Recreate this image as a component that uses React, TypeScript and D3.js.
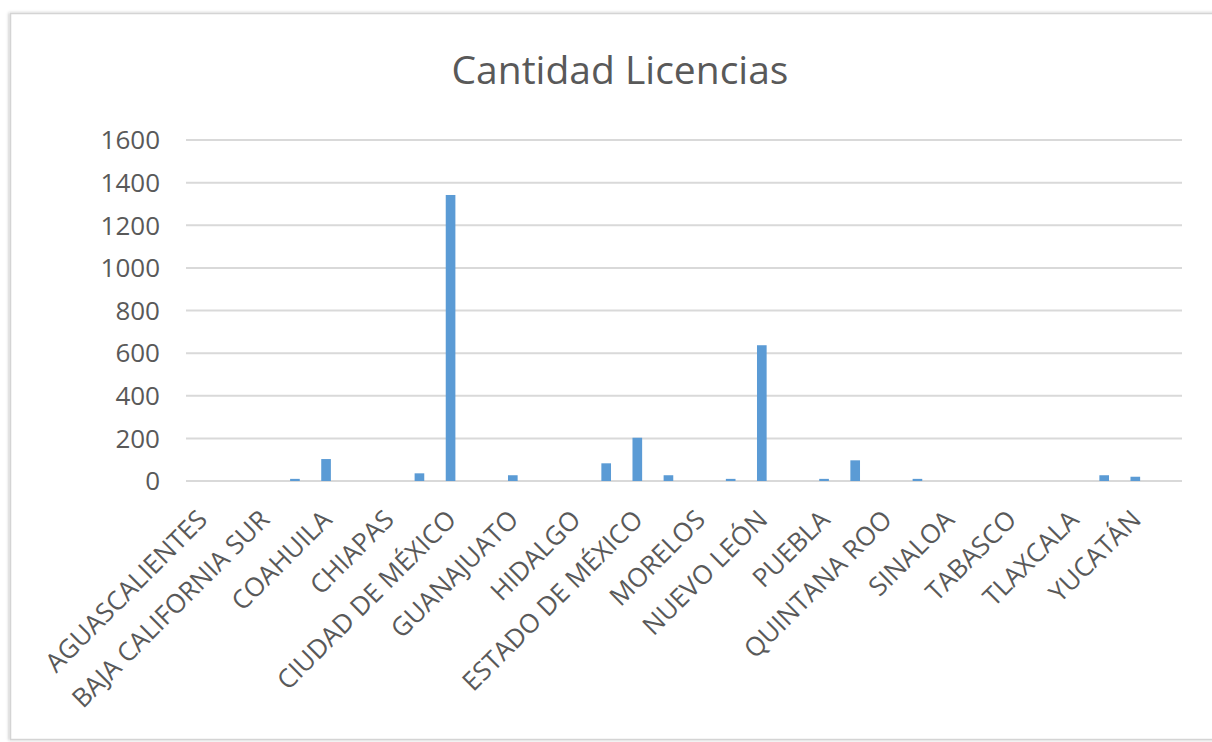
import React from 'react';
import * as d3 from 'd3';

// estados en orden INEGI; solo se rotulan los de índice par (como en Excel)
const estados = [
  'AGUASCALIENTES', 'BAJA CALIFORNIA', 'BAJA CALIFORNIA SUR', 'CAMPECHE',
  'COAHUILA', 'COLIMA', 'CHIAPAS', 'CHIHUAHUA',
  'CIUDAD DE MÉXICO', 'DURANGO', 'GUANAJUATO', 'GUERRERO',
  'HIDALGO', 'JALISCO', 'ESTADO DE MÉXICO', 'MICHOACÁN',
  'MORELOS', 'NAYARIT', 'NUEVO LEÓN', 'OAXACA',
  'PUEBLA', 'QUERÉTARO', 'QUINTANA ROO', 'SAN LUIS POTOSÍ',
  'SINALOA', 'SONORA', 'TABASCO', 'TAMAULIPAS',
  'TLAXCALA', 'VERACRUZ', 'YUCATÁN', 'ZACATECAS',
];

const licencias = [
  0, 0, 0, 10,
  103, 0, 0, 36,
  1342, 0, 27, 0,
  0, 83, 203, 27,
  0, 10, 637, 0,
  10, 97, 0, 10,
  0, 0, 0, 0,
  0, 27, 20, 0,
];

const yTicks = [0, 200, 400, 600, 800, 1000, 1200, 1400, 1600];

const W = 1212;
const H = 742;
const font = '"Open Sans", "Noto Sans", sans-serif';

export default function App() {
  const x = d3.scaleBand<string>()
    .domain(estados)
    .range([186, 1182])
    .paddingInner(0.69)
    .paddingOuter(0.345);
  const y = d3.scaleLinear().domain([0, 1600]).range([481, 140]);

  return (
    <svg width={W} height={H} style={{ position: 'absolute', left: 0, top: 0, background: '#fff' }}>
      <defs>
        <filter id="sombra" x="-5%" y="-5%" width="110%" height="110%">
          <feDropShadow dx="-1" dy="0" stdDeviation="1.5" floodColor="#000" floodOpacity="0.25" />
        </filter>
      </defs>
      {/* marco del gráfico */}
      <rect x={10.5} y={13.5} width={1215} height={726} fill="#fff" stroke="#d4d4d4" strokeWidth={1.5} filter="url(#sombra)" />

      <text x={620} y={84} textAnchor="middle" fontFamily={font} fontSize={39} fill="#595959">
        Cantidad Licencias
      </text>

      {/* rejilla y etiquetas del eje y */}
      {yTicks.map(t => (
        <g key={t}>
          <line x1={186} x2={1182} y1={y(t)} y2={y(t)} stroke="#d9d9d9" strokeWidth={2} />
          <text x={160} y={y(t)} dy="0.36em" textAnchor="end" fontFamily={font} fontSize={26} fill="#595959">
            {t}
          </text>
        </g>
      ))}

      {/* barras */}
      {estados.map((e, i) => (
        <rect key={e} x={x(e)} y={y(licencias[i])} width={x.bandwidth()} height={y(0) - y(licencias[i])} fill="#5b9bd5" />
      ))}

      {/* etiquetas del eje x, una sí y una no */}
      {estados.map((e, i) => i % 2 === 0 ? (
        <text
          key={'l' + e}
          transform={`translate(${(x(e) as number) + x.bandwidth() / 2 - 6},${508}) rotate(-45)`}
          dy="0.72em"
          textAnchor="end"
          fontFamily={font}
          fontSize={26}
          fill="#595959"
        >
          {e}
        </text>
      ) : null)}
    </svg>
  );
}
